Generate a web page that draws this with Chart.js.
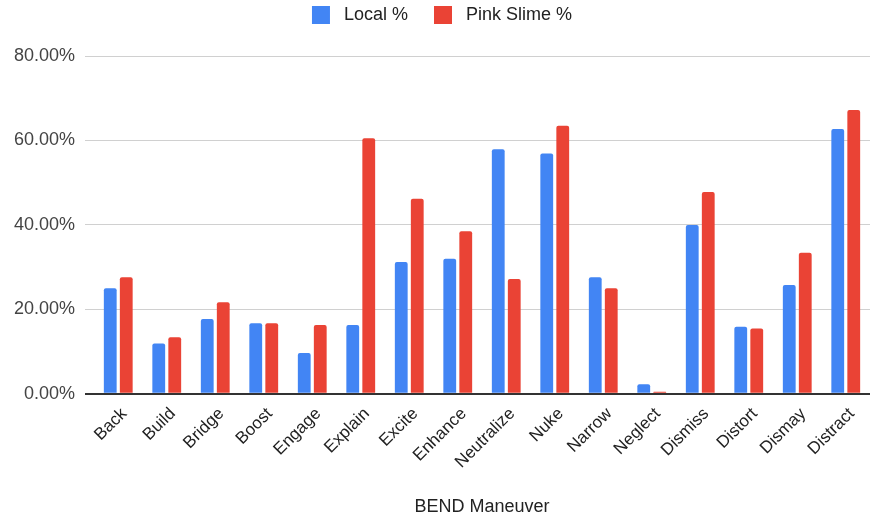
<!DOCTYPE html>
<html>
<head>
<meta charset="utf-8">
<script src="https://cdn.jsdelivr.net/npm/chart.js@4/dist/chart.umd.min.js"></script>
<style>
  html, body { margin: 0; padding: 0; background: #fff; }
  #wrap { width: 871px; height: 519px; }
</style>
</head>
<body>
<div id="wrap"><canvas id="chart" width="871" height="519"></canvas></div>
<script>
// BEND maneuver share by outlet type
const maneuvers = ["Back", "Build", "Bridge", "Boost", "Engage", "Explain", "Excite", "Enhance",
  "Neutralize", "Nuke", "Narrow", "Neglect", "Dismiss", "Distort", "Dismay", "Distract"];
const localPct = [25.0, 11.9, 17.7, 16.7, 9.7, 16.3, 31.2, 32.0, 57.9, 56.9, 27.6, 2.3, 40.0, 15.9, 25.8, 62.7];
const pinkSlimePct = [27.6, 13.4, 21.7, 16.7, 16.3, 60.5, 46.2, 38.5, 27.2, 63.5, 25.0, 0.5, 47.8, 15.5, 33.4, 67.2];
const yTicks = [0, 20, 40, 60, 80];

const FONT = "'Liberation Sans', Arial, sans-serif";

// Legend entries get a little extra breathing room around their text
function spacedLabels(chart) {
  const items = Chart.defaults.plugins.legend.labels.generateLabels(chart);
  return items.map((it, i) => {
    it.text = " " + it.text + (i < items.length - 1 ? "    " : "");
    return it;
  });
}

// Nudge the legend a few pixels to the right
const legendNudge = {
  id: "legendNudge",
  afterLayout(chart) {
    const lg = chart.legend;
    if (!lg) return;
    lg.left += 7;
    lg.right += 7;
  }
};

new Chart(document.getElementById("chart"), {
  type: "bar",
  data: {
    labels: maneuvers,
    datasets: [
      { label: "Local %", data: localPct, backgroundColor: "#4285F4",
        borderRadius: { topLeft: 2, topRight: 2 }, borderSkipped: "bottom" },
      { label: "Pink Slime %", data: pinkSlimePct, backgroundColor: "#EA4335",
        borderRadius: { topLeft: 2, topRight: 2 }, borderSkipped: "bottom" }
    ]
  },
  plugins: [legendNudge],
  options: {
    responsive: false,
    animation: false,
    devicePixelRatio: 1,
    layout: { padding: { left: 0, right: 1, top: 0, bottom: 1 } },
    datasets: { bar: { categoryPercentage: 0.66, barPercentage: 0.8 } },
    plugins: {
      legend: {
        position: "top",
        labels: {
          font: { family: FONT, size: 18 },
          color: "#222",
          boxWidth: 18,
          boxHeight: 18,
          padding: 6,
          generateLabels: spacedLabels
        }
      },
      // empty spacer between the legend and the plot
      title: {
        display: true,
        text: " ",
        weight: 500,
        font: { size: 10 },
        padding: 5
      },
      tooltip: { enabled: false }
    },
    scales: {
      x: {
        grid: { display: false },
        border: { display: false },
        ticks: {
          font: { family: FONT, size: 17 },
          color: "#222",
          minRotation: 45,
          maxRotation: 45,
          autoSkip: false,
          padding: 2,
          labelOffset: 6
        },
        title: {
          display: true,
          text: "BEND Maneuver",
          font: { family: FONT, size: 18 },
          color: "#222",
          padding: { top: 22, bottom: 0 }
        }
      },
      y: {
        min: 0,
        max: 80,
        afterBuildTicks: (axis) => { axis.ticks = yTicks.map(v => ({ value: v })); },
        afterFit: (axis) => { axis.width = 94; },
        border: { display: false },
        grid: {
          color: (c) => (c.tick && c.tick.value === 0 ? "#333" : "#d0d0d0"),
          lineWidth: (c) => (c.tick && c.tick.value === 0 ? 2 : 1),
          tickLength: 9
        },
        ticks: {
          font: { family: FONT, size: 18 },
          color: "#444",
          padding: 10,
          callback: (v) => v.toFixed(2) + "%"
        }
      }
    }
  }
});
</script>
</body>
</html>
